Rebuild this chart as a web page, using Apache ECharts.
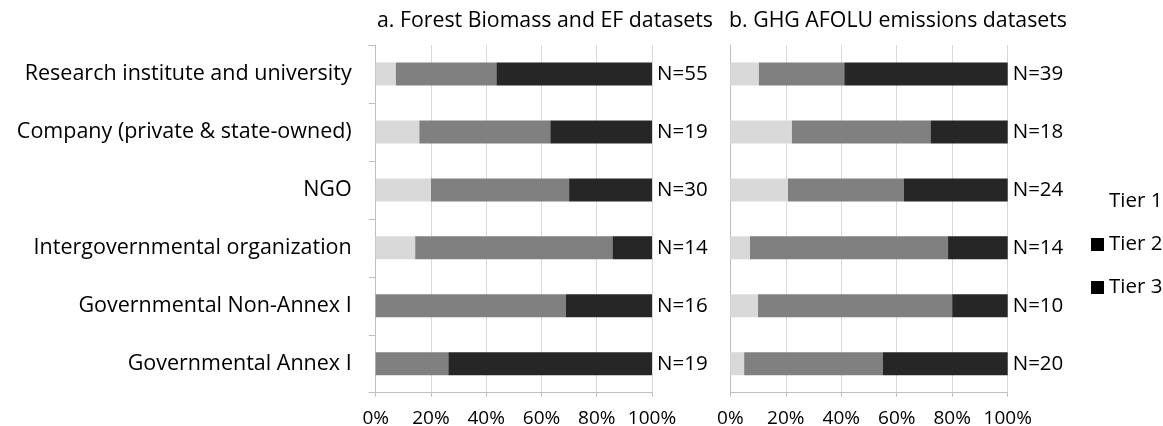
<!DOCTYPE html>
<html>
<head>
<meta charset="utf-8">
<script src="https://cdn.jsdelivr.net/npm/echarts@6/dist/echarts.min.js"></script>
<style>html,body{margin:0;padding:0;background:#fff}#c{width:1163px;height:426px}</style>
</head>
<body>
<div id="c"></div>
<script>
var categories = ["Research institute and university","Company (private & state-owned)","NGO","Intergovernmental organization","Governmental Non-Annex I","Governmental Annex I"];
var tiers = ["Tier 1","Tier 2","Tier 3"];
var xTicks = ["0%","20%","40%","60%","80%","100%"];
// Panel a: Forest Biomass and EF datasets (% of datasets)
var aTier1 = [7.3, 15.8, 20.0, 14.3, 0, 0];
var aTier2 = [36.4, 47.4, 50.0, 71.4, 68.8, 26.3];
var aTier3 = [56.3, 36.8, 30.0, 14.3, 31.2, 73.7];
var aN = [55, 19, 30, 14, 16, 19];
// Panel b: GHG AFOLU emissions datasets (% of datasets)
var bTier1 = [10.3, 22.2, 20.8, 7.1, 10.0, 5.0];
var bTier2 = [30.8, 50.0, 41.7, 71.4, 70.0, 50.0];
var bTier3 = [58.9, 27.8, 37.5, 21.5, 20.0, 45.0];
var bN = [39, 18, 24, 14, 10, 20];
var titles = ["a. Forest Biomass and EF datasets","b. GHG AFOLU emissions datasets"];

var colors = ["#d9d9d9","#808080","#262626"];
var FONT = "Open Sans";
var chart = echarts.init(document.getElementById('c'), null, {renderer:'canvas'});

function xAxis(gi){
  return {
    type:'value', gridIndex:gi, min:0, max:100, interval:20,
    axisLine:{show:true, lineStyle:{color:'#bfbfbf'}},
    axisTick:{show:true, length:4, lineStyle:{color:'#bfbfbf'}},
    splitLine:{show:true, lineStyle:{color:'#d9d9d9'}},
    axisLabel:{formatter:function(v){return xTicks[v/20];}, color:'#000', fontSize:19, fontFamily:FONT, margin:16}
  };
}
function yAxis(gi, showLabels){
  return {
    type:'category', gridIndex:gi, data:categories, inverse:true,
    axisLine:{show:true, lineStyle:{color:'#bfbfbf'}},
    axisTick:{show:showLabels, length:7, lineStyle:{color:'#bfbfbf'}},
    axisLabel:{show:showLabels, color:'#000', fontSize:21.5, fontFamily:FONT, margin:24},
    splitLine:{show:false}
  };
}
function bars(gi, d1, d2, d3, N){
  var data = [d1,d2,d3];
  return tiers.map(function(t,i){
    var s = {
      name:t, type:'bar', stack:'s'+gi, xAxisIndex:gi, yAxisIndex:gi,
      data:data[i], barWidth:23,
      itemStyle:{color:colors[i]},
      emphasis:{disabled:true}
    };
    if(i===2){
      s.label = {show:true, position:'right', distance:5, color:'#000', fontSize:20.5, fontFamily:FONT,
        formatter:function(p){return 'N=' + N[p.dataIndex];}};
    }
    return s;
  });
}

chart.setOption({
  animation:false,
  textStyle:{fontFamily:FONT},
  title:[
    {text:titles[0], left:372, top:5, textStyle:{fontSize:21.3, fontWeight:'normal', color:'#000', fontFamily:FONT}},
    {text:titles[1], left:724, top:5, textStyle:{fontSize:21.3, fontWeight:'normal', color:'#000', fontFamily:FONT}}
  ],
  legend:{
    orient:'vertical', left:1086, top:186, itemGap:22, itemWidth:13, itemHeight:13,
    textStyle:{fontSize:20.5, color:'#000', fontFamily:FONT},
    data:[
      {name:'Tier 1', icon:'rect', itemStyle:{color:'#ffffff'}},
      {name:'Tier 2', icon:'rect', itemStyle:{color:'#000000'}},
      {name:'Tier 3', icon:'rect', itemStyle:{color:'#000000'}}
    ],
    selectedMode:false
  },
  grid:[
    {left:375.7, width:276.3, top:45, height:347.7, containLabel:false, outerBoundsMode:'none'},
    {left:730.3, width:277.4, top:45, height:347.7, containLabel:false, outerBoundsMode:'none'}
  ],
  xAxis:[xAxis(0), xAxis(1)],
  yAxis:[yAxis(0,true), yAxis(1,false)],
  series: bars(0,aTier1,aTier2,aTier3,aN).concat(bars(1,bTier1,bTier2,bTier3,bN))
});
</script>
</body>
</html>
